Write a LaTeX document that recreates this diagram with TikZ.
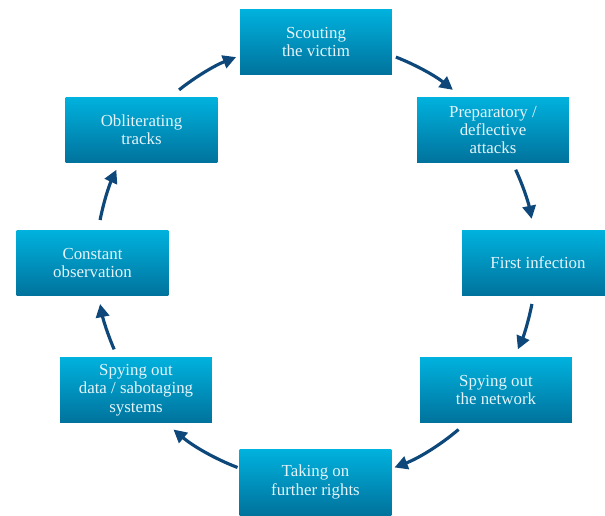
\documentclass[tikz,border=0pt]{standalone}
\usepackage{fontspec}
\setmainfont{Liberation Serif}
\usetikzlibrary{arrows.meta}
\definecolor{stagetop}{RGB}{0,178,222}
\definecolor{stagebot}{RGB}{0,114,156}
\definecolor{stagetext}{RGB}{228,244,250}
\definecolor{cyclearrow}{RGB}{14,72,122}
\tikzset{
  stage/.style={rectangle, minimum width=3.04cm, minimum height=1.32cm, inner sep=0pt,
    top color=stagetop, bottom color=stagebot, text=stagetext, align=center,
    font=\fontsize{9.6}{10.4}\selectfont},
  flow/.style={cyclearrow, line width=1.8pt, -{Triangle[length=7.5pt,width=7.5pt]}}
}
\begin{document}
\begin{tikzpicture}[x=0.02cm,y=0.02cm]
\useasboundingbox (0,0) rectangle (605,515);
\clip (0,0) rectangle (605,515);
%% stages
\node[stage] (scout)   at (316,473)   {Scouting\\the victim};
\node[stage] (prep)    at (493,385)   {Preparatory /\\deflective\\attacks};
\node[stage] (infect)  at (538,252)   {First infection};
\node[stage] (network) at (496,125)   {Spying out\\the network};
\node[stage] (rights)  at (315.5,33)  {Taking on\\further rights};
\node[stage] (data)    at (136,125)   {Spying out\\data / sabotaging\\systems};
\node[stage] (observe) at (92.5,252)  {Constant\\observation};
\node[stage] (tracks)  at (141.5,385) {Obliterating\\tracks};
%% cycle arrows
\coordinate (hub) at (316,253);
\draw[flow] (hub) ++(68.7:4.4cm)   arc[start angle=68.7,   end angle=51.5,   radius=4.4cm];
\draw[flow] (hub) ++(24.8:4.4cm)   arc[start angle=24.8,   end angle=11.3,   radius=4.4cm];
\draw[flow] (hub) ++(-11:4.4cm)    arc[start angle=-11,    end angle=-23.4,  radius=4.4cm];
\draw[flow] (hub) ++(-49.6:4.4cm)  arc[start angle=-49.6,  end angle=-69.1,  radius=4.4cm];
\draw[flow] (hub) ++(-110.9:4.4cm) arc[start angle=-110.9, end angle=-130.4, radius=4.4cm];
\draw[flow] (hub) ++(-156.6:4.4cm) arc[start angle=-156.6, end angle=-169,   radius=4.4cm];
\draw[flow] (hub) ++(169:4.4cm)    arc[start angle=169,    end angle=155.2,  radius=4.4cm];
\draw[flow] (hub) ++(128.5:4.4cm)  arc[start angle=128.5,  end angle=111.3,  radius=4.4cm];
\end{tikzpicture}
\end{document}
